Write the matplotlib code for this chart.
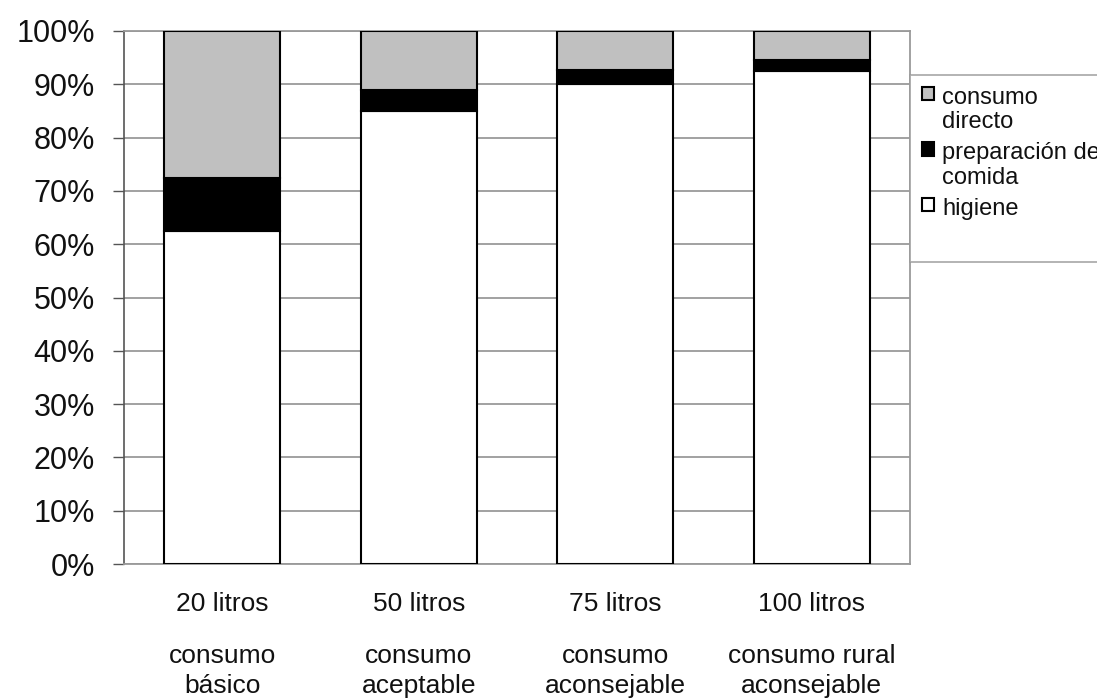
import matplotlib
matplotlib.use("Agg")
import matplotlib.pyplot as plt
from matplotlib.patches import Rectangle
from matplotlib.ticker import PercentFormatter, MultipleLocator
import numpy as np

# Water use per person and day, split by purpose (% of the total volume)
volumenes = ["20 litros", "50 litros", "75 litros", "100 litros"]
niveles = ["consumo\nbásico", "consumo\naceptable", "consumo\naconsejable",
           "consumo rural\naconsejable"]
higiene = [62.5, 85.0, 90.0, 92.5]
preparacion = [10.0, 4.0, 2.7, 2.0]
consumo_directo = [27.5, 11.0, 7.3, 5.5]
series_labels = ["consumo\ndirecto", "preparación de\ncomida", "higiene"]

plt.rcParams["font.family"] = ["Liberation Sans", "DejaVu Sans"]

W, H = 1097, 698
fig = plt.figure(figsize=(W / 100, H / 100), dpi=100)
ax = fig.add_axes([124 / W, 1 - 564 / H, (910 - 124) / W, (564 - 31) / H])

x = np.arange(len(volumenes))
width = 0.59
kw = dict(width=width, edgecolor="black", linewidth=1.5, zorder=3)
b_hig = ax.bar(x, higiene, color="white", **kw)
b_pre = ax.bar(x, preparacion, bottom=higiene, color="black", **kw)
b_dir = ax.bar(x, consumo_directo, bottom=np.add(higiene, preparacion),
               color="#c0c0c0", **kw)

ax.set_xlim(-0.5, len(volumenes) - 0.5)
ax.set_ylim(0, 100)
ax.yaxis.set_major_locator(MultipleLocator(10))
ax.yaxis.set_major_formatter(PercentFormatter(decimals=0))
ax.grid(axis="y", color="#9a9a9a", linewidth=1.3, zorder=0)
ax.set_axisbelow(True)

ax.tick_params(axis="y", direction="out", length=8, width=1.0, color="#555555",
               pad=13, labelsize=22, labelcolor="#111111")
ax.tick_params(axis="x", length=0, labelbottom=False)

for side in ("right", "top", "bottom"):
    ax.spines[side].set_color("#9a9a9a")
    ax.spines[side].set_linewidth(1.3)
ax.spines["left"].set_color("#555555")
ax.spines["left"].set_linewidth(1.2)

# Two-block category labels under each bar
trans = ax.get_xaxis_transform()
axh = 564 - 31
for xi, vol, niv in zip(x, volumenes, niveles):
    ax.text(xi, -47 / axh, vol, transform=trans, ha="center", va="baseline",
            fontsize=19, color="#111111")
    for k, line in enumerate(niv.split("\n")):
        ax.text(xi, -(99 + 30 * k) / axh, line, transform=trans, ha="center",
                va="baseline", fontsize=19, color="#111111")

# Legend to the right of the plot
blank = Rectangle((0, 0), 1, 1, alpha=0)
leg = fig.legend([b_dir, b_pre, b_hig, blank], series_labels + [" "],
                 loc="upper left", bbox_to_anchor=(910 / W, 1 - 75 / H),
                 bbox_transform=fig.transFigure, borderaxespad=0,
                 fontsize=17, handlelength=0.5, handleheight=0.5,
                 handletextpad=0.35, labelspacing=0.38, borderpad=0.5,
                 frameon=True, fancybox=False)
frame = leg.get_frame()
frame.set_edgecolor("#9a9a9a")
frame.set_linewidth(1.3)
for t in leg.get_texts():
    t.set_linespacing(1.14)
    t.set_color("#111111")
for col in leg._legend_handle_box.get_children():
    for item in col.get_children():
        item.align = "top"

fig.savefig("out.png", dpi=100)
